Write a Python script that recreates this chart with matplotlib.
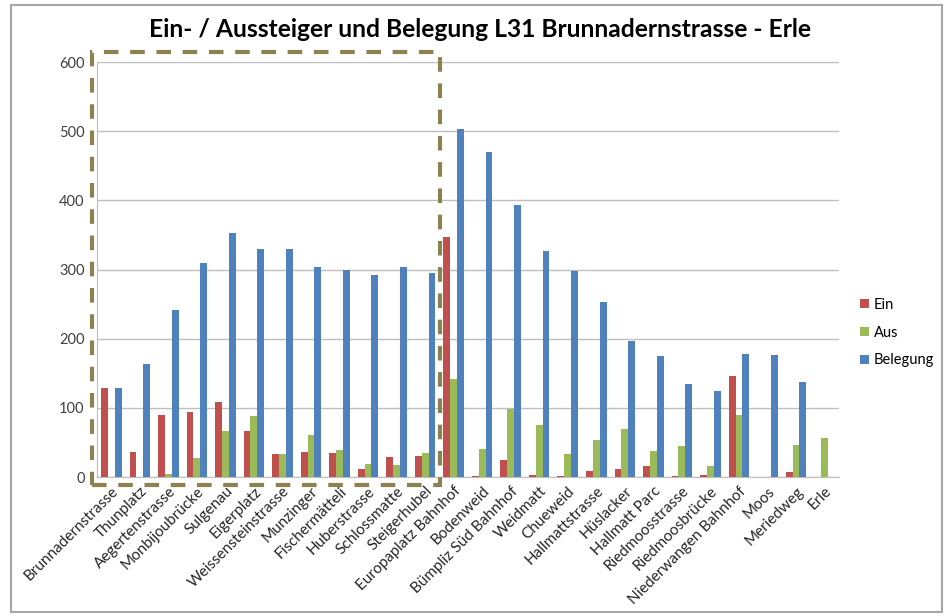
import matplotlib
matplotlib.use("Agg")
import matplotlib.pyplot as plt
from matplotlib.patches import Rectangle
import numpy as np

plt.rcParams['font.family'] = ['Lato', 'DejaVu Sans']

# Haltestellen der Linie 31 und Fahrgastzahlen
stations = [
    'Brunnadernstrasse', 'Thunplatz', 'Aegertenstrasse', 'Monbijoubrücke',
    'Sulgenau', 'Eigerplatz', 'Weissensteinstrasse', 'Munzinger',
    'Fischermätteli', 'Huberstrasse', 'Schlossmatte', 'Steigerhubel',
    'Europaplatz Bahnhof', 'Bodenweid', 'Bümpliz Süd Bahnhof', 'Weidmatt',
    'Chueweid', 'Hallmattstrasse', 'Hüslacker', 'Hallmatt Parc',
    'Riedmoosstrasse', 'Riedmoosbrücke', 'Niederwangen Bahnhof', 'Moos',
    'Meriedweg', 'Erle',
]
ein = [128, 36, 89, 94, 108, 67, 34, 36, 35, 11, 29, 30,
       347, 2, 25, 3, 1, 9, 11, 16, 1, 3, 146, 0, 7, 0]
aus = [0, 0, 5, 27, 67, 88, 34, 61, 39, 19, 18, 35,
       142, 40, 98, 75, 33, 54, 70, 37, 45, 16, 90, 0, 47, 57]
belegung = [128, 164, 242, 310, 353, 330, 329, 303, 300, 292, 303, 295,
            503, 470, 394, 327, 298, 253, 197, 175, 134, 124, 178, 176, 138, 0]
y_ticks = [0, 100, 200, 300, 400, 500, 600]

series = [('Ein', ein, '#C0504D'), ('Aus', aus, '#9BBB59'), ('Belegung', belegung, '#4F81BD')]

fig = plt.figure(figsize=(9.51, 6.16), dpi=100)
ax = fig.add_axes([0.102, 0.2256, 0.78, 0.6737])

x = np.arange(len(stations))
w = 0.24
for i, (name, vals, col) in enumerate(series):
    ax.bar(x + (i - 1) * w, vals, width=w, color=col, label=name, zorder=3)

ax.set_xlim(-0.5, len(stations) - 0.5)
ax.set_ylim(0, 600)
ax.set_yticks(y_ticks)
ax.tick_params(axis='y', length=0, pad=9, labelsize=10.5, labelcolor='#404040')
ax.tick_params(axis='x', length=0, pad=5)
ax.set_xticks(x)
ax.set_xticklabels(stations, rotation=45, ha='right', rotation_mode='anchor',
                   fontsize=11, color='#262626')
ax.grid(axis='y', color='#BEBEBE', linewidth=1, zorder=0)
for s in ['top', 'right']:
    ax.spines[s].set_visible(False)
for s in ['left', 'bottom']:
    ax.spines[s].set_color('#BEBEBE')

fig.text(0.505, 0.952, 'Ein- / Aussteiger und Belegung L31 Brunnadernstrasse - Erle',
         ha='center', va='center', fontsize=17.7, fontweight='bold')

leg = fig.legend(loc='upper left', bbox_to_anchor=(0.891, 0.538), frameon=False,
                 fontsize=10.5, handlelength=0.6, handleheight=0.6, handletextpad=0.3,
                 labelspacing=0.95)

# Rahmen um das ganze Diagramm
fig.patches.append(Rectangle((0.012, 0.006), 0.979, 0.986, transform=fig.transFigure,
                             fill=False, edgecolor='#A6A6A6', linewidth=1.5))

# gestrichelte Markierung des Abschnitts Brunnadernstrasse - Steigerhubel
fig.patches.append(Rectangle((0.0967, 1 - 485 / 616), (440 - 92) / 951, (485 - 52) / 616,
                             transform=fig.transFigure, fill=False,
                             edgecolor='#8C8150', linewidth=3,
                             linestyle=(0, (3.5, 2.8)), zorder=5))

fig.savefig('out.png', dpi=100)
